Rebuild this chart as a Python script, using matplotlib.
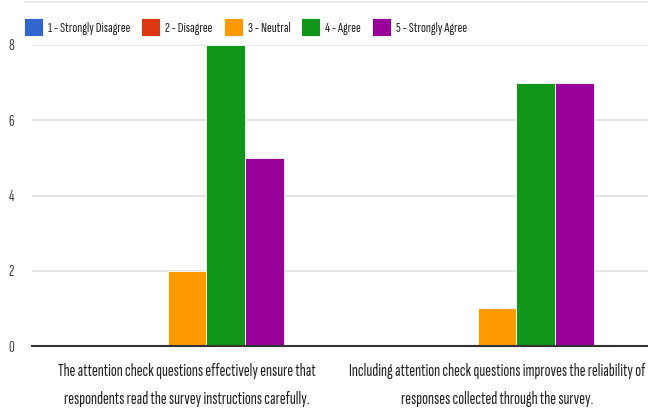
import matplotlib
matplotlib.use("Agg")
import matplotlib.pyplot as plt
import numpy as np

categories = [
    "The attention check questions effectively ensure that\nrespondents read the survey instructions carefully.",
    "Including attention check questions improves the reliability of\nresponses collected through the survey.",
]
series_names = ["1 - Strongly Disagree", "2 - Disagree", "3 - Neutral", "4 - Agree", "5 - Strongly Agree"]
series_values = [
    [0, 0],
    [0, 0],
    [2, 1],
    [8, 7],
    [5, 7],
]
colors = ["#3366cc", "#dc3912", "#ff9900", "#109618", "#990099"]
yticks = [0, 2, 4, 6, 8]

FONT = ["Sofia Sans Extra Condensed", "Roboto Condensed", "DejaVu Sans"]
plt.rcParams["font.family"] = FONT

fig = plt.figure(figsize=(6.48, 4.12), dpi=100)
renderer = fig.canvas.get_renderer()


def fitted_size(text, width_px, base=10.0):
    t = fig.text(0, 0, text, fontsize=base)
    w = t.get_window_extent(renderer).width
    t.remove()
    return base * width_px / w


label_fs = fitted_size(categories[0].split("\n")[0], 258)
legend_fs = fitted_size(series_names[0], 82)

ax = fig.add_axes([32 / 648, 1 - 346 / 412, 620 / 648, 301 / 412])

x = np.arange(len(categories))
group = 0.626
w = group / len(series_names)
for i, (name, vals, c) in enumerate(zip(series_names, series_values, colors)):
    offs = (i - (len(series_names) - 1) / 2) * w
    ax.bar(x + offs, vals, width=w, color=c, edgecolor="white", linewidth=0.6,
           label=name, zorder=3)

ax.set_xlim(-0.5, 1.5)
ax.set_ylim(0, 8)
ax.set_yticks(yticks)
ax.set_yticklabels([str(v) for v in yticks], color="#444444", fontsize=legend_fs * 1.1)
ax.set_xticks(x)
ax.set_xticklabels(categories, color="#222222", fontsize=label_fs, linespacing=1.95)
ax.tick_params(axis="both", length=0)
ax.tick_params(axis="y", pad=13)
ax.tick_params(axis="x", pad=12)
ax.grid(axis="y", color="#e0e0e0", linewidth=1.2, zorder=0)
for s in ["top", "right", "left"]:
    ax.spines[s].set_visible(False)
ax.spines["bottom"].set_color("#333333")
ax.spines["bottom"].set_linewidth(1.5)
ax.spines["bottom"].set_zorder(4)

# faint rule above the legend
fig.add_artist(plt.Line2D([25 / 648, 1], [1 - 2 / 412, 1 - 2 / 412],
                          color="#e8e8e8", linewidth=1.2))

leg = fig.legend(loc="center left", bbox_to_anchor=(24 / 648, 1 - 27 / 412),
                 ncol=5, frameon=False, fontsize=legend_fs, handlelength=1.3,
                 handleheight=1.5, handletextpad=0.35, columnspacing=0.75,
                 borderaxespad=0, borderpad=0)
for t in leg.get_texts():
    t.set_color("#222222")

fig.savefig("out.png", dpi=100)
